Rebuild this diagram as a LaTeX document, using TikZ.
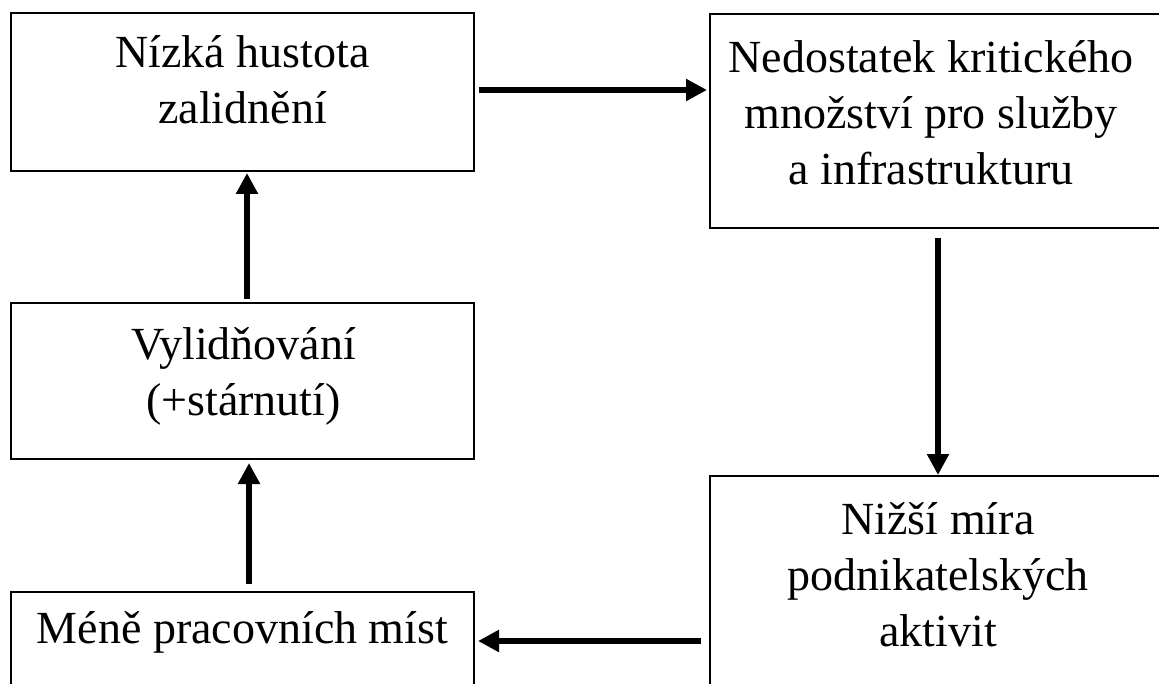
\documentclass[tikz,border=0pt]{standalone}
\usepackage{fontspec}
\setmainfont{Liberation Serif}
\usetikzlibrary{arrows.meta,positioning}
\tikzset{
  box/.style={draw=black,line width=2pt,minimum width=463pt,inner sep=0pt},
  widebox/.style={box,minimum width=452pt},
  boxtext/.style={inner sep=0pt,align=center,font=\fontsize{46}{56}\selectfont},
  flow/.style={line width=6pt,-{Triangle[length=21pt,width=21pt]}}
}

\begin{document}
\begin{tikzpicture}[x=1pt,y=-1pt]
  \useasboundingbox (0,0) rectangle (1159,684);
  \clip (0,0) rectangle (1159,684);
  \node[box,minimum height=158pt] (lowdens) at (242.5,92.0) {};
  \node[widebox,minimum height=214pt] (critmass) at (936.0,121.0) {};
  \node[box,minimum height=156pt] (depop) at (242.5,381.0) {};
  \node[box,minimum height=128pt] (lowjobs) at (242.5,656.0) {};
  \node[widebox,minimum height=244pt] (lowbiz) at (936.0,598.0) {};
  \node[boxtext] (lowdenstext) at (242.5,80.0) {Nízká hustota\\zalidnění};
  \node[boxtext] (critmasstext) at (931.0,113.0) {Nedostatek kritického\\množství pro služby\\a infrastrukturu};
  \node[boxtext] (depoptext) at (243.5,376.0) {Vylidňování\\(+stárnutí)};
  \node[boxtext,anchor=base] (lowjobstext) at (242.5,643.0) {Méně pracovních míst};
  \node[boxtext] (lowbiztext) at (938.0,575.0) {Nižší míra\\podnikatelských\\aktivit};
  \draw[flow,shorten <=4pt,shorten >=2pt] ([yshift=2pt]lowdens.east) -- ([yshift=2pt]lowdens.east -| critmass.west);
  \draw[flow,shorten <=9pt] ([xshift=2pt]critmass.south) -- ([xshift=2pt]critmass.south |- lowbiz.north);
  \draw[flow,shorten <=8pt,shorten >=3pt] ([yshift=15pt]lowbiz.west |- lowjobs.east) -- ([yshift=15pt]lowjobs.east);
  \draw[flow,shorten <=7pt,shorten >=3pt] ([xshift=6.5pt]lowjobs.north) -- ([xshift=6.5pt]depop.south);
  \draw[flow,shorten <=3pt,shorten >=1pt] ([xshift=4.5pt]depop.north) -- ([xshift=4.5pt]lowdens.south);
\end{tikzpicture}
\end{document}
